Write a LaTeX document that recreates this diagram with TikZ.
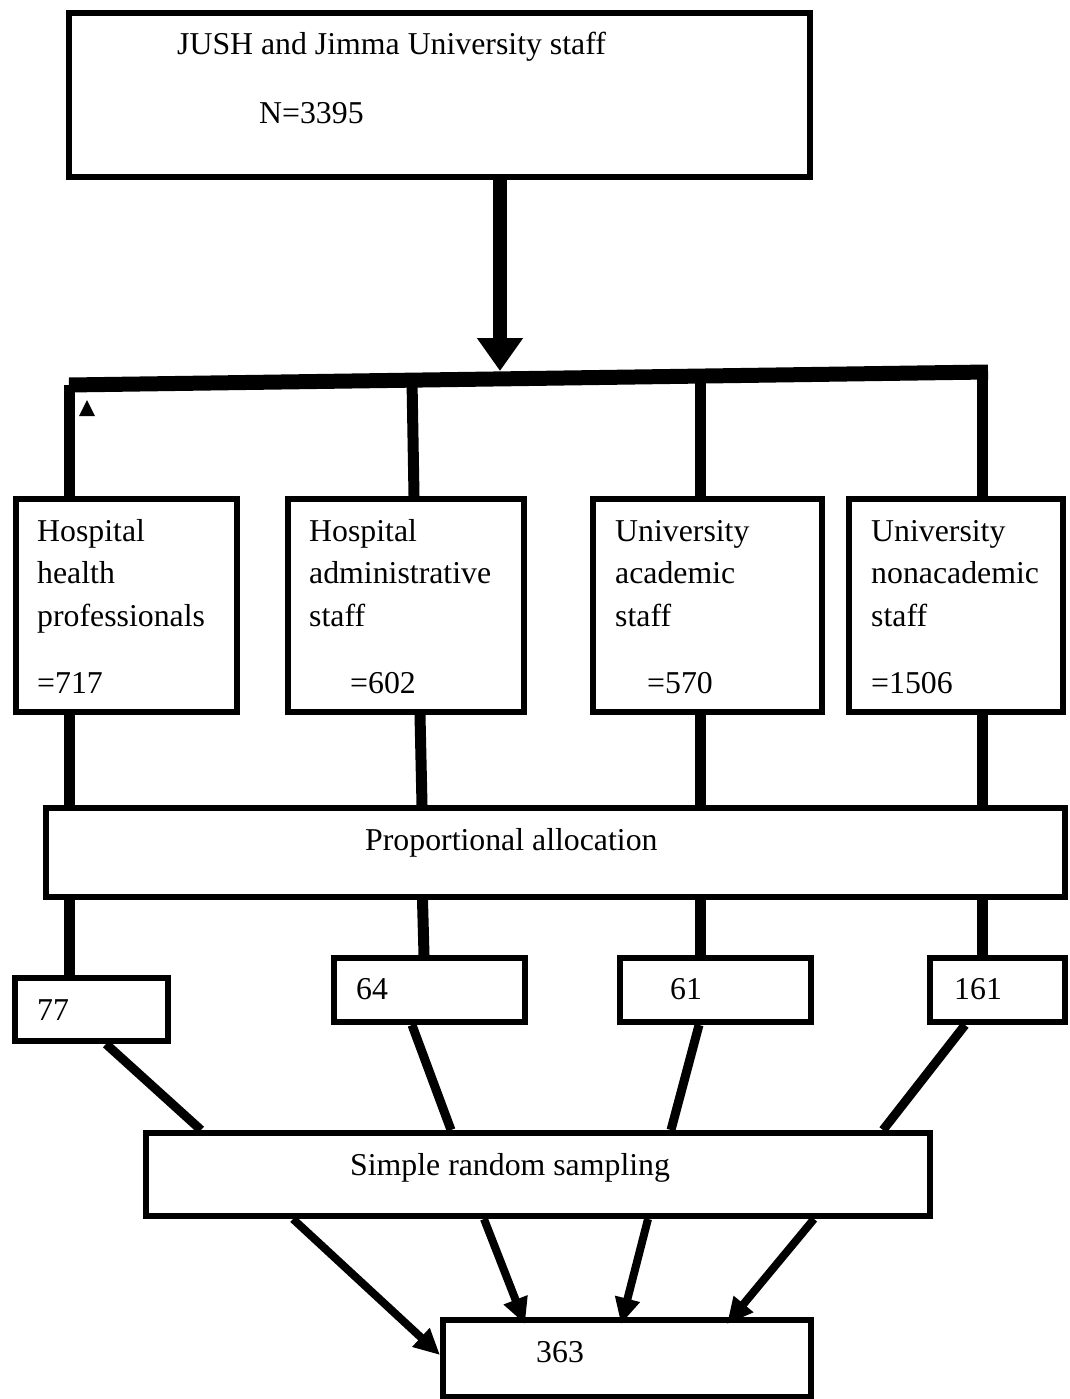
\documentclass[tikz,border=0pt]{standalone}
\usepackage{fontspec}
\setmainfont{Liberation Serif}
\usetikzlibrary{arrows.meta}

\begin{document}
\begin{tikzpicture}[x=1pt,y=-1pt]
\tikzstyle{box}=[draw, line width=6pt, inner sep=0pt]
\tikzstyle{txt}=[anchor=base west, inner sep=0pt, align=left, font=\fontsize{31.8}{42.5}\selectfont]
\tikzstyle{stem}=[line width=11pt]
\tikzstyle{slant}=[line width=9pt]
\tikzstyle{into}=[line width=8pt, -{Triangle[length=26pt,width=24pt]}]

\useasboundingbox (0,0) rectangle (1069,1399);

% whole population
\node[box, minimum width=741pt, minimum height=164pt] (jush) at (439.5,95) {};
\node[txt] (jush-t) at (177,124) {JUSH and Jimma University staff\\[26.5pt]\hspace*{82pt}N=3395};

% splitting bar
\coordinate (split) at (500,371);
\coordinate (b1) at (69,385);
\coordinate (b2) at (412,380);
\coordinate (b3) at (700,376);
\coordinate (b4) at (982,372);

\draw[line width=15pt] (b1) -- ([xshift=6pt]b4);
\draw[line width=14pt, -{Triangle[length=33pt,width=44pt]}] (jush.south -| split) -- (split);
\fill (79,416) -- (95,416) -- (87,400) -- cycle;

% strata
\node[box, minimum width=221pt, minimum height=213pt] (hp) at (126.5,605.5) {};
\node[box, minimum width=236pt, minimum height=213pt] (hadm) at (406,605.5) {};
\node[box, minimum width=229pt, minimum height=213pt] (uac) at (707.5,605.5) {};
\node[box, minimum width=214pt, minimum height=213pt] (unac) at (956,605.5) {};

\node[txt] (hp-t) at (37,693) {Hospital\\health\\professionals\\[24.5pt]=717};
\node[txt] (hadm-t) at (309,693) {Hospital\\administrative\\staff\\[24.5pt]\hspace*{41pt}=602};
\node[txt] (uac-t) at (615,693) {University\\academic\\staff\\[24.5pt]\hspace*{32pt}=570};
\node[txt] (unac-t) at (871,693) {University\\nonacademic\\staff\\[24.5pt]=1506};

\draw[stem] (b1) -- (b1 |- hp.north);
\draw[stem] (b2) -- ([xshift=2pt]b2 |- hadm.north);
\draw[stem] (b3) -- (b3 |- uac.north);
\draw[stem] ([yshift=2pt]b4) -- (b4 |- unac.north);

% allocation
\node[box, minimum width=1019pt, minimum height=89pt] (prop) at (555.5,852.5) {};
\node[txt] (prop-t) at (365,850) {Proportional allocation};

\draw[stem] (hp.south -| b1) -- (prop.north -| b1);
\draw[stem] ([xshift=14pt]hadm.south) -- ([xshift=16pt]hadm.south |- prop.north);
\draw[stem] (uac.south -| b3) -- (prop.north -| b3);
\draw[stem] (unac.south -| b4) -- (prop.north -| b4);

% sample sizes
\node[box, minimum width=153pt, minimum height=63pt] (n77) at (91.5,1009.5) {};
\node[box, minimum width=191pt, minimum height=64pt] (n64) at (429.5,990) {};
\node[box, minimum width=191pt, minimum height=64pt] (n61) at (715.5,990) {};
\node[box, minimum width=135pt, minimum height=64pt] (n161) at (997.5,990) {};

\node[txt] (n77-t) at (37,1020) {77};
\node[txt] (n64-t) at (356,999) {64};
\node[txt] (n61-t) at (670,999) {61};
\node[txt] (n161-t) at (954,999) {161};

\draw[stem] (prop.south -| b1) -- (n77.north -| b1);
\draw[stem] ([xshift=-7pt]prop.south -| n64.north) -- ([xshift=-5.5pt]n64.north);
\draw[stem] (prop.south -| b3) -- (n61.north -| b3);
\draw[stem] (prop.south -| b4) -- (n161.north -| b4);

% sampling
\node[box, minimum width=784pt, minimum height=83pt] (srs) at (538,1174.5) {};
\node[txt] (srs-t) at (350,1175) {Simple random sampling};

\draw[slant] ([xshift=14.5pt]n77.south) -- ([xshift=-337pt]srs.north);
\draw[slant] ([xshift=-17.5pt]n64.south) -- ([xshift=-87pt]srs.north);
\draw[slant] ([xshift=-16.5pt]n61.south) -- ([xshift=133pt]srs.north);
\draw[slant] ([xshift=-32.5pt]n161.south) -- ([xshift=345pt]srs.north);

% total sample
\node[box, minimum width=368pt, minimum height=77pt] (total) at (627,1358.5) {};
\node[txt] (total-t) at (536,1362) {363};

\draw[into] ([xshift=-245pt]srs.south) -- ([yshift=3.5pt]total.west);
\draw[into] ([xshift=-54pt]srs.south) -- ([xshift=-102pt,yshift=-7pt]total.north);
\draw[into] ([xshift=110pt]srs.south) -- ([xshift=-6pt,yshift=-7pt]total.north);
\draw[into] ([xshift=276pt]srs.south) -- ([xshift=100pt,yshift=-7pt]total.north);

\end{tikzpicture}
\end{document}
